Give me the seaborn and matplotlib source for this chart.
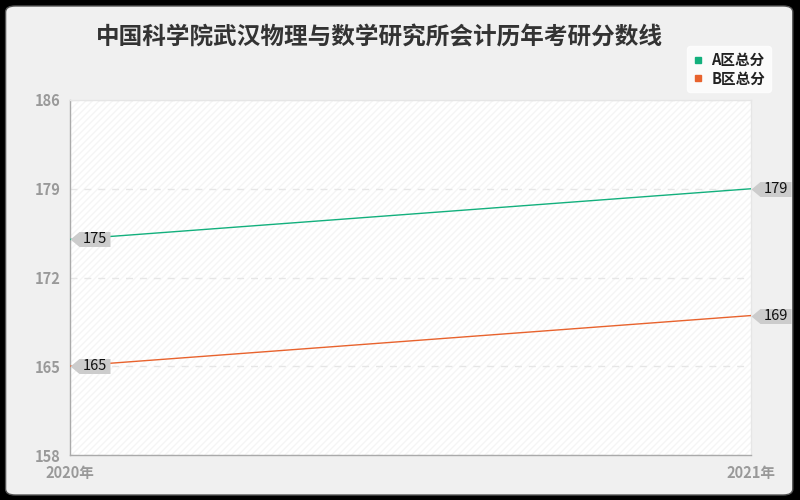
import numpy as np
import pandas as pd
import seaborn as sns
from matplotlib import pyplot as plt
from matplotlib.patches import FancyBboxPatch, Rectangle
from matplotlib.path import Path
from matplotlib.lines import Line2D

years = [2020, 2021]
year_labels = ['2020年', '2021年']
series_names = ['A区总分', 'B区总分']
a_scores = [175, 179]
b_scores = [165, 169]
y_ticks = [158, 165, 172, 179, 186]
colors = ['#13b07d', '#e8632e']
title = '中国科学院武汉物理与数学研究所会计历年考研分数线'

df = pd.DataFrame({
    'year': years * 2,
    'score': a_scores + b_scores,
    'series': [series_names[0]] * 2 + [series_names[1]] * 2,
})

sns.set_theme(style='white')
plt.rcParams['font.family'] = ['Noto Sans CJK SC', 'DejaVu Sans']

fig = plt.figure(figsize=(8, 5), dpi=100)
fig.patch.set_facecolor('black')
fig.patches.append(FancyBboxPatch((0.007, 0.01), 0.984, 0.978, boxstyle='round,pad=0,rounding_size=0.012',
                                  transform=fig.transFigure, facecolor='#f0f0f0', edgecolor='#555555',
                                  linewidth=1, zorder=-10))

ax = fig.add_axes([0.0875, 0.09, 0.8515, 0.71])
ax.set_facecolor('white')
ax.add_patch(Rectangle((0, 0), 1, 1, transform=ax.transAxes, facecolor='white', edgecolor='#f5f5f5',
                       hatch='/////', linewidth=0, zorder=0))

sns.lineplot(data=df, x='year', y='score', hue='series', palette=colors, linewidth=1,
             legend=False, ax=ax, zorder=3)

ax.set_xlim(years[0], years[-1])
ax.set_ylim(y_ticks[0], y_ticks[-1])
ax.set_yticks(y_ticks)
ax.set_xticks(years)
ax.set_xticklabels(year_labels)
ax.set_xlabel('')
ax.set_ylabel('')
ax.tick_params(axis='both', colors='#999999', labelsize=10.5, length=5, width=1, direction='out', pad=2)
for t in ax.get_xticklabels() + ax.get_yticklabels():
    t.set_fontweight('bold')
ax.yaxis.grid(True, linestyle=(0, (5, 5)), color='#e6e6e6', linewidth=1)
ax.set_axisbelow(True)
ax.spines['left'].set_color('#aaaaaa')
ax.spines['bottom'].set_color('#aaaaaa')
ax.spines['top'].set_color('#e6e6e6')
ax.spines['right'].set_color('#e6e6e6')
for s in ax.spines.values():
    s.set_linewidth(1)

# callout label shape: tip at the data point, box to the right
tag = Path([(0, 0), (9, 7.5), (40, 7.5), (40, -7.5), (9, -7.5), (0, 0)],
           [Path.MOVETO, Path.LINETO, Path.LINETO, Path.LINETO, Path.LINETO, Path.CLOSEPOLY])
for vals in [a_scores, b_scores]:
    for x, y in zip(years, vals):
        ax.plot([x], [y], marker=tag, markersize=57.6, color='#cccccc', markeredgewidth=0,
                clip_on=False, zorder=5)
        ax.annotate(str(y), (x, y), xytext=(17.8, 0), textcoords='offset points', ha='center',
                    va='center', fontsize=10.5, color='#111111', zorder=6, annotation_clip=False)

fig.text(0.474, 0.925, title, ha='center', va='center', fontsize=17, fontweight='bold', color='#333333')

handles = [Line2D([], [], marker='s', linestyle='', color=c, markersize=4) for c in colors]
leg = fig.legend(handles, series_names, loc='upper right', bbox_to_anchor=(0.973, 0.922), frameon=True,
                 fontsize=10.5, handlelength=0.8, handletextpad=0.5, labelspacing=0.15, borderpad=0.4)
leg.get_frame().set_facecolor('white')
leg.get_frame().set_edgecolor('white')
for t in leg.get_texts():
    t.set_fontweight('bold')
    t.set_color('#222222')

fig.savefig('out.png', dpi=100, facecolor=fig.get_facecolor())
